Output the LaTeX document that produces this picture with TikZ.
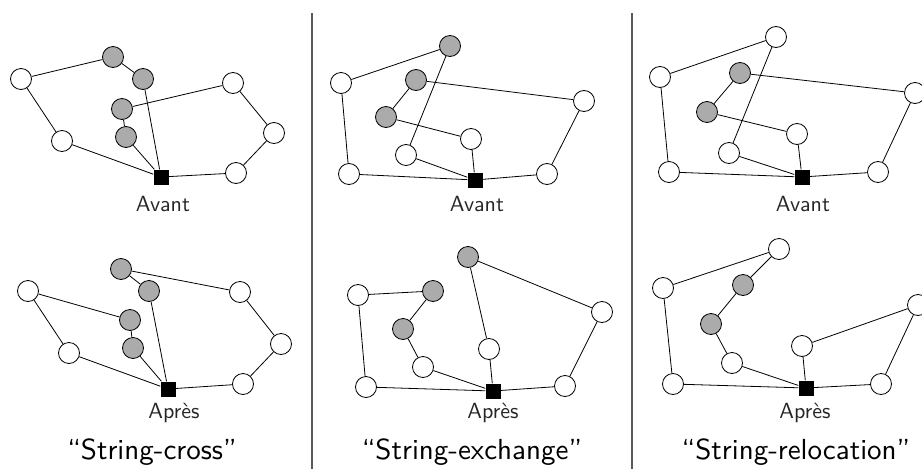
\documentclass[tikz,border=0pt]{standalone}
\usepackage{fontspec}
\newfontfamily\lmsten[Ligatures=TeX]{lmsans10-regular.otf}
\begin{document}
\begin{tikzpicture}[x=1pt,y=-1pt,
  wn/.style={circle,draw=black,fill=white,line width=0.8pt,minimum size=21pt,inner sep=0pt},
  gn/.style={circle,draw=black,fill=black!33,line width=0.8pt,minimum size=21pt,inner sep=0pt},
  dep/.style={rectangle,fill=black,minimum size=15pt,inner sep=0pt},
  lbl/.style={font=\lmsten\fontsize{22}{26}\selectfont,text=black!85,inner sep=0pt},
  ttl/.style={font=\lmsten\fontsize{29}{34}\selectfont,inner sep=0pt},
  sep/.style={draw=black!65,line width=1.2pt},
  edge/.style={line width=0.8pt}]
\clip (0,0) rectangle (922,469);
\fill[white] (0,0) rectangle (922,469);
\draw[sep] (312,13) -- (312,469);
\draw[sep] (632,13) -- (632,469);

% ---------- Panel 1 Avant ----------
\node[wn] (p1w1) at (21,79) {};
\node[gn] (p1g1) at (113,57) {};
\node[gn] (p1g2) at (143,79) {};
\node[gn] (p1g3) at (122,109) {};
\node[gn] (p1g4) at (126,137) {};
\node[wn] (p1w2) at (62,141) {};
\node[dep] (p1d) at (161,177) {};
\node[wn] (p1w3) at (233,83) {};
\node[wn] (p1w4) at (274,133) {};
\node[wn] (p1w5) at (236,173) {};
\node[lbl] (p1l) at (163,204) {Avant};

% ---------- Panel 1 Apres ----------
\node[wn] (q1w1) at (28,291) {};
\node[gn] (q1g1) at (121,269) {};
\node[gn] (q1g2) at (149,291) {};
\node[gn] (q1g3) at (130,320) {};
\node[gn] (q1g4) at (133,348) {};
\node[wn] (q1w2) at (69,353) {};
\node[dep] (q1d) at (168,389) {};
\node[wn] (q1w3) at (240,292) {};
\node[wn] (q1w4) at (281,344) {};
\node[wn] (q1w5) at (243,384) {};
\node[lbl] (q1l) at (174,413) {Après};
\node[ttl] (t1) at (152,452) {``String-cross''};

% ---------- Panel 2 Avant ----------
\node[wn] (p2w1) at (341,83) {};
\node[gn] (p2g1) at (450,46) {};
\node[gn] (p2g2) at (416,80) {};
\node[gn] (p2g3) at (386,117) {};
\node[wn] (p2w2) at (471,139) {};
\node[wn] (p2w3) at (406,155) {};
\node[wn] (p2w4) at (349,174) {};
\node[dep] (p2d) at (475,180) {};
\node[wn] (p2w5) at (547,174) {};
\node[wn] (p2w6) at (584,101) {};
\node[lbl] (p2l) at (477,204) {Avant};

% ---------- Panel 2 Apres ----------
\node[gn] (q2g1) at (468,257) {};
\node[wn] (q2w1) at (358,295) {};
\node[gn] (q2g2) at (433,291) {};
\node[gn] (q2g3) at (403,329) {};
\node[wn] (q2w2) at (423,367) {};
\node[wn] (q2w3) at (489,349) {};
\node[wn] (q2w4) at (366,387) {};
\node[dep] (q2d) at (493,391) {};
\node[wn] (q2w5) at (565,386) {};
\node[wn] (q2w6) at (602,312) {};
\node[lbl] (q2l) at (493,413) {Après};
\node[ttl] (t2) at (472,452) {``String-exchange''};

% ---------- Panel 3 Avant ----------
\node[wn] (p3w1) at (776,37) {};
\node[wn] (p3w2) at (660,77) {};
\node[gn] (p3g1) at (740,73) {};
\node[gn] (p3g2) at (707,112) {};
\node[wn] (p3w3) at (797,134) {};
\node[wn] (p3w4) at (729,153) {};
\node[wn] (p3w5) at (669,172) {};
\node[dep] (p3d) at (802,177) {};
\node[wn] (p3w6) at (878,172) {};
\node[wn] (p3w7) at (915,93) {};
\node[lbl] (p3l) at (803,204) {Avant};

% ---------- Panel 3 Apres ----------
\node[wn] (q3w1) at (779,249) {};
\node[wn] (q3w2) at (663,288) {};
\node[gn] (q3g1) at (743,285) {};
\node[gn] (q3g2) at (711,324) {};
\node[wn] (q3w3) at (732,363) {};
\node[wn] (q3w4) at (802,346) {};
\node[wn] (q3w5) at (673,384) {};
\node[dep] (q3d) at (806,388) {};
\node[wn] (q3w6) at (881,384) {};
\node[wn] (q3w7) at (918,305) {};
\node[lbl] (q3l) at (805,413) {Après};
\node[ttl] (t3) at (796,452) {``String-relocation''};

% ---------- Edges ----------
\begin{scope}[edge]
\draw (p1w1) -- (p1g1) -- (p1g2) -- (p1d);
\draw (p1w1) -- (p1w2) -- (p1d);
\draw (p1w3) -- (p1g3) -- (p1g4) -- (p1d);
\draw (p1w3) -- (p1w4) -- (p1w5) -- (p1d);
\draw (q1w1) -- (q1g3) -- (q1g4) -- (q1d);
\draw (q1w1) -- (q1w2) -- (q1d);
\draw (q1w3) -- (q1g1) -- (q1g2) -- (q1d);
\draw (q1w3) -- (q1w4) -- (q1w5) -- (q1d);
\draw (p2w1) -- (p2g1) -- (p2w3) -- (p2d);
\draw (p2w1) -- (p2w4) -- (p2d);
\draw (p2w6) -- (p2g2) -- (p2g3) -- (p2w2) -- (p2d);
\draw (p2w6) -- (p2w5) -- (p2d);
\draw (q2w1) -- (q2g2) -- (q2g3) -- (q2w2) -- (q2d);
\draw (q2w1) -- (q2w4) -- (q2d);
\draw (q2w6) -- (q2g1) -- (q2w3) -- (q2d);
\draw (q2w6) -- (q2w5) -- (q2d);
\draw (p3w2) -- (p3w1) -- (p3w4) -- (p3d);
\draw (p3w2) -- (p3w5) -- (p3d);
\draw (p3w7) -- (p3g1) -- (p3g2) -- (p3w3) -- (p3d);
\draw (p3w7) -- (p3w6) -- (p3d);
\draw (q3w2) -- (q3w1) -- (q3g1) -- (q3g2) -- (q3w3) -- (q3d);
\draw (q3w2) -- (q3w5) -- (q3d);
\draw (q3w7) -- (q3w4) -- (q3d);
\draw (q3w7) -- (q3w6) -- (q3d);
\end{scope}
\end{tikzpicture}
\end{document}
